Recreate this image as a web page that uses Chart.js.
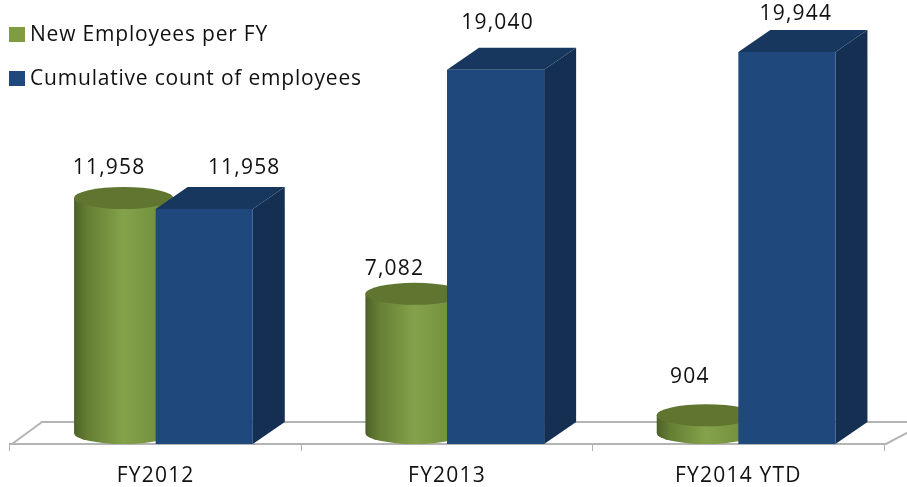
<!DOCTYPE html>
<html>
<head>
<meta charset="utf-8">
<style>html,body{margin:0;padding:0;background:#fff;overflow:hidden}canvas{display:block}</style>
<script src="https://cdn.jsdelivr.net/npm/chart.js@4"></script>
</head>
<body>
<canvas id="c" width="907" height="487"></canvas>
<script>
const categories = ["FY2012", "FY2013", "FY2014 YTD"];
const newEmployees = [11958, 7082, 904];
const cumulativeEmployees = [11958, 19040, 19944];
const seriesNames = ["New Employees per FY", "Cumulative count of employees"];

const FONT = '"Open Sans", sans-serif';
const DX = 32, DY = 22;
const labelShift = [
  [[2, -41], [40, -41]],
  [[-4, -36], [2, -47]],
  [[0, -49], [9, -38]]
];

const scene = {
  id: 'scene',
  beforeDraw(chart) {
    chart.ctx.letterSpacing = '1.2px';
    const ctx = chart.ctx, a = chart.chartArea;
    ctx.save();
    ctx.strokeStyle = '#b4b4b4';
    ctx.lineWidth = 2;
    ctx.beginPath();
    ctx.moveTo(a.left + 2, a.bottom);
    ctx.lineTo(a.left + DX, a.bottom - DY);
    ctx.lineTo(chart.width, a.bottom - DY);
    ctx.moveTo(a.right - 1, a.bottom);
    ctx.lineTo(a.right + 2, a.bottom);
    ctx.lineTo(a.right + DX, a.bottom - DY + 6);
    ctx.stroke();
    ctx.restore();
  },
  beforeDatasetsDraw(chart) {
    const ctx = chart.ctx, base = chart.scales.y.getPixelForValue(0);
    const half = DX / 2, halfY = DY / 2;
    ctx.save();
    chart.getDatasetMeta(0).data.forEach(b => {
      const w = b.width, l = b.x - w / 2 + half;
      const cx = l + w / 2 + 0.5, rx = w / 2 + 1, ry = halfY;
      const topY = b.y - halfY, botY = base - halfY;
      const g = ctx.createLinearGradient(l, 0, l + w, 0);
      g.addColorStop(0, '#4f6228');
      g.addColorStop(0.14, '#667f34');
      g.addColorStop(0.5, '#84a24a');
      g.addColorStop(0.85, '#74913e');
      g.addColorStop(1, '#5d7530');
      ctx.fillStyle = g;
      ctx.beginPath();
      ctx.moveTo(cx - rx, topY);
      ctx.lineTo(cx - rx, botY);
      ctx.ellipse(cx, botY, rx, ry, 0, Math.PI, 0, true);
      ctx.lineTo(cx + rx, topY);
      ctx.closePath();
      ctx.fill();
      ctx.fillStyle = '#5f7530';
      ctx.beginPath();
      ctx.ellipse(cx, topY, rx, ry, 0, 0, Math.PI * 2);
      ctx.fill();
    });
    chart.getDatasetMeta(1).data.forEach(b => {
      const l = b.x - b.width / 2, r = b.x + b.width / 2, t = b.y;
      ctx.fillStyle = '#17375e';
      ctx.beginPath();
      ctx.moveTo(l, t);
      ctx.lineTo(l + DX, t - DY);
      ctx.lineTo(r + DX, t - DY);
      ctx.lineTo(r, t);
      ctx.closePath();
      ctx.fill();
      ctx.fillStyle = '#152f53';
      ctx.beginPath();
      ctx.moveTo(r, t);
      ctx.lineTo(r + DX, t - DY);
      ctx.lineTo(r + DX, base - DY);
      ctx.lineTo(r, base);
      ctx.closePath();
      ctx.fill();
    });
    ctx.restore();
  },
  afterDatasetsDraw(chart) {
    const ctx = chart.ctx;
    ctx.save();
    ctx.fillStyle = '#111';
    ctx.font = '21px ' + FONT;
    ctx.textAlign = 'center';
    ctx.textBaseline = 'middle';
    ctx.letterSpacing = '1.2px';
    [0, 1].forEach(d => chart.getDatasetMeta(d).data.forEach((b, i) => {
      const v = chart.data.datasets[d].data[i];
      const s = labelShift[i][d];
      ctx.fillText(v.toLocaleString('en-US'), b.x + s[0], b.y + s[1]);
    }));
    ctx.textAlign = 'left';
    ctx.letterSpacing = '0.8px';
    seriesNames.forEach((name, i) => {
      const y = i === 0 ? 35 : 79;
      ctx.fillStyle = i === 0 ? '#7f9c43' : '#1f497d';
      ctx.fillRect(9, y - 8, 16, 15);
      ctx.fillStyle = '#111';
      ctx.fillText(name, 30, y);
    });
    ctx.restore();
  }
};

new Chart(document.getElementById('c'), {
  type: 'bar',
  plugins: [scene],
  data: {
    labels: categories,
    datasets: [
      { label: seriesNames[0], data: newEmployees, backgroundColor: 'rgba(127,156,67,0)', borderWidth: 0 },
      { label: seriesNames[1], data: cumulativeEmployees, backgroundColor: '#1f497d', borderWidth: 0 }
    ]
  },
  options: {
    responsive: false,
    animation: false,
    layout: { padding: { left: 10, right: 23, top: 51, bottom: 0 } },
    plugins: { legend: { display: false }, tooltip: { enabled: false }, title: { display: false } },
    scales: {
      x: {
        offset: true,
        afterFit(s) { s.height = 43; },
        grid: { drawOnChartArea: false, drawTicks: true, tickLength: 7, color: '#b0b0b0', lineWidth: 1, offset: true },
        border: { color: '#b4b4b4', width: 2 },
        ticks: { color: '#111', font: { family: FONT, size: 21 }, padding: 12, maxRotation: 0 }
      },
      y: { display: false, min: 0, max: 20000 }
    },
    datasets: { bar: { categoryPercentage: 2 / 3, barPercentage: 1 } }
  }
});
</script>
</body>
</html>
